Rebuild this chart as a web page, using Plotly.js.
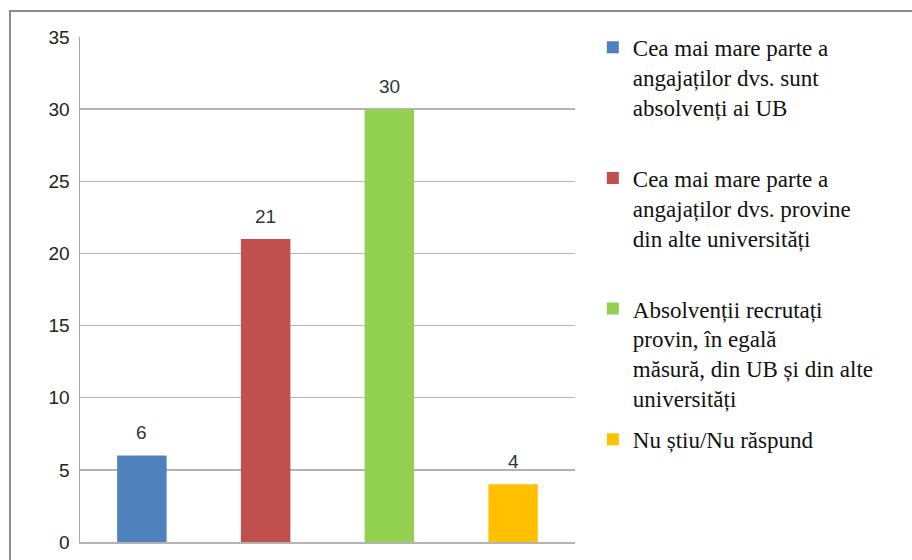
<!DOCTYPE html>
<html>
<head>
<meta charset="utf-8">
<script src="https://cdn.plot.ly/plotly-3.0.1.min.js"></script>
<style>
  html, body { margin: 0; padding: 0; background: #fff; }
  #wrap { position: relative; width: 912px; height: 560px; overflow: hidden; }
  #chart { width: 912px; height: 560px; }
  #frame { position: absolute; left: 9px; top: 10px; width: 1000px; height: 600px;
           border-left: 2px solid #8c8c8c; border-top: 2px solid #8c8c8c; pointer-events: none; }
</style>
</head>
<body>
<div id="wrap">
  <div id="chart"></div>
  <div id="frame"></div>
</div>
<script>
const categories = [
  "Cea mai mare parte a angajaților dvs. sunt absolvenți ai UB",
  "Cea mai mare parte a angajaților dvs. provine din alte universități",
  "Absolvenții recrutați provin, în egală măsură, din UB și din alte universități",
  "Nu știu/Nu răspund"
];
const legendLabels = [
  "Cea mai mare parte a<br>angajaților dvs. sunt<br>absolvenți ai UB<br>&nbsp;",
  "Cea mai mare parte a<br>angajaților dvs. provine<br>din alte universități<br>&nbsp;",
  "Absolvenții recrutați<br>provin, în egală<br>măsură, din UB și din alte<br>universități",
  "Nu știu/Nu răspund"
];
const values = [6, 21, 30, 4];
const colors = ["#4f81bd", "#c0504d", "#92d050", "#ffc000"];
const yTicks = [0, 5, 10, 15, 20, 25, 30, 35];

const traces = categories.map((c, i) => ({
  type: "bar",
  x: [c],
  y: [values[i]],
  name: legendLabels[i],
  legendgroup: "g" + i,
  marker: { color: colors[i], line: { width: 0 } },
  hoverinfo: "y"
}));

const annotations = categories.map((c, i) => ({
  x: c, y: values[i], xref: "x", yref: "y",
  text: String(values[i]),
  showarrow: false, yanchor: "bottom", yshift: 10,
  font: { family: "'Liberation Sans', Arial, sans-serif", size: 19, color: "#333333" }
}));

const layout = {
  width: 912, height: 560,
  margin: { l: 80, r: 337, t: 37, b: 18, pad: 0 },
  paper_bgcolor: "#ffffff", plot_bgcolor: "#ffffff",
  barmode: "overlay",
  bargap: 0.6,
  showlegend: true,
  legend: {
    x: 1.036, xanchor: "left", xref: "paper",
    y: 1.022, yanchor: "top", yref: "paper",
    valign: "top",
    tracegroupgap: 8,
    maxheight: 1000,
    font: { family: "Liberation Serif, DejaVu Serif, Noto Serif, Times, serif", size: 23, color: "#111111" },
    bgcolor: "rgba(0,0,0,0)", borderwidth: 0
  },
  xaxis: {
    type: "category",
    categoryorder: "array", categoryarray: categories,
    showticklabels: false, ticks: "",
    showgrid: false, zeroline: false,
    showline: true, linecolor: "#b3b3b3", linewidth: 2,
    fixedrange: true
  },
  yaxis: {
    range: [0, 35],
    tickvals: yTicks,
    ticktext: yTicks.map(String),
    ticks: "", ticklen: 0,
    showgrid: true, gridcolor: "#b3b3b3", gridwidth: 1.5,
    zeroline: false,
    showline: true, linecolor: "#a6a6a6", linewidth: 1.5,
    tickfont: { family: "'Liberation Sans', Arial, sans-serif", size: 19, color: "#222222" },
    ticklabelstandoff: 5,
    fixedrange: true
  },
  annotations: annotations
};

Plotly.newPlot("chart", traces, layout, { displayModeBar: false, staticPlot: true });
</script>
</body>
</html>
